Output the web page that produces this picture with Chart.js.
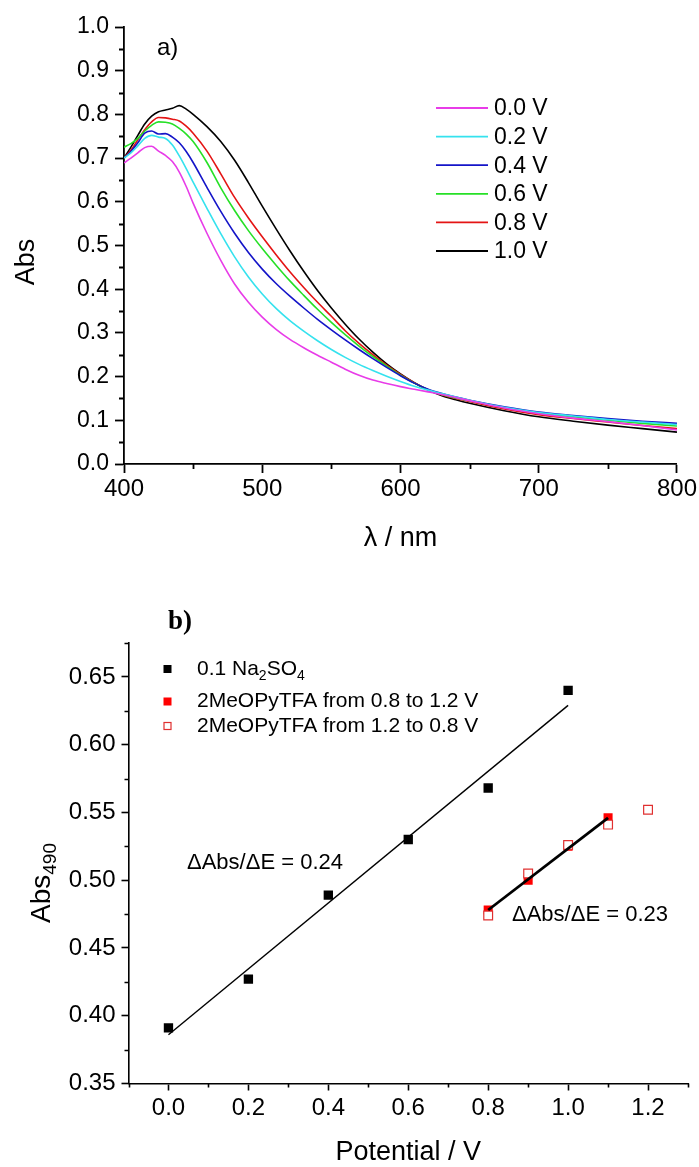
<!DOCTYPE html>
<html>
<head>
<meta charset="utf-8">
<script src="https://cdn.jsdelivr.net/npm/chart.js@4.4.0/dist/chart.umd.min.js"></script>
<style>
  html, body { margin: 0; padding: 0; background: #fff; }
  canvas { position: absolute; left: 0; }
  #spectra { top: 0; }
  #linear { top: 580px; }
</style>
</head>
<body>
<canvas id="spectra" width="699" height="580"></canvas>
<canvas id="linear" width="699" height="587"></canvas>
<script>
// a) spectra at each potential
const wavelengths = [400, 405, 410, 415, 420, 425, 430, 435, 440, 445, 450, 460, 470, 480, 490, 500, 510, 520, 530, 540,
                     550, 560, 570, 580, 590, 600, 610, 620, 630, 640, 650, 675, 700, 725, 750, 775, 800];
const potentialLabels = ['0.0 V', '0.2 V', '0.4 V', '0.6 V', '0.8 V', '1.0 V'];
const spectraColors = ['#e83ce8', '#35e2ee', '#1414c8', '#26e026', '#e41414', '#000000'];

const abs00 = [0.689, 0.700, 0.712, 0.724, 0.727, 0.716, 0.706, 0.692, 0.668, 0.635, 0.597, 0.528, 0.466, 0.412, 0.370, 0.336, 0.308, 0.285, 0.266, 0.249,
               0.233, 0.217, 0.203, 0.192, 0.184, 0.177, 0.171, 0.165, 0.159, 0.152, 0.145, 0.128, 0.115, 0.105, 0.097, 0.088, 0.078];
const abs02 = [0.700, 0.712, 0.728, 0.745, 0.752, 0.748, 0.745, 0.730, 0.705, 0.676, 0.645, 0.585, 0.527, 0.474, 0.428, 0.389, 0.356, 0.328, 0.304, 0.282,
               0.262, 0.244, 0.228, 0.214, 0.201, 0.189, 0.178, 0.169, 0.161, 0.153, 0.146, 0.130, 0.118, 0.110, 0.102, 0.096, 0.090];
const abs04 = [0.700, 0.715, 0.735, 0.757, 0.762, 0.755, 0.756, 0.748, 0.735, 0.715, 0.690, 0.633, 0.578, 0.528, 0.484, 0.446, 0.413, 0.384, 0.357, 0.331,
               0.307, 0.284, 0.262, 0.241, 0.221, 0.202, 0.185, 0.171, 0.161, 0.153, 0.146, 0.131, 0.119, 0.111, 0.104, 0.098, 0.093];
const abs06 = [0.725, 0.733, 0.745, 0.762, 0.775, 0.783, 0.782, 0.778, 0.768, 0.755, 0.738, 0.690, 0.632, 0.580, 0.534, 0.493, 0.455, 0.419, 0.386, 0.354,
               0.324, 0.296, 0.270, 0.246, 0.224, 0.203, 0.185, 0.170, 0.159, 0.151, 0.145, 0.129, 0.117, 0.108, 0.100, 0.093, 0.087];
const abs08 = [0.700, 0.718, 0.742, 0.765, 0.783, 0.793, 0.792, 0.789, 0.785, 0.773, 0.757, 0.716, 0.664, 0.610, 0.563, 0.520, 0.479, 0.440, 0.404, 0.370,
               0.338, 0.305, 0.276, 0.250, 0.226, 0.205, 0.186, 0.170, 0.158, 0.150, 0.143, 0.126, 0.113, 0.104, 0.096, 0.088, 0.081];
const abs10 = [0.700, 0.725, 0.752, 0.778, 0.796, 0.806, 0.810, 0.814, 0.820, 0.812, 0.800, 0.772, 0.738, 0.695, 0.644, 0.590, 0.538, 0.488, 0.441, 0.397,
               0.357, 0.320, 0.286, 0.256, 0.229, 0.206, 0.186, 0.169, 0.156, 0.147, 0.139, 0.122, 0.108, 0.098, 0.089, 0.081, 0.073];
const spectra = [abs00, abs02, abs04, abs06, abs08, abs10];

const spectraMinorX = [450, 550, 650, 750];
const spectraMinorY = [0.05, 0.15, 0.25, 0.35, 0.45, 0.55, 0.65, 0.75, 0.85, 0.95];

// b) Abs at 490 nm vs potential
const potentialNa = [0.0, 0.2, 0.4, 0.6, 0.8, 1.0];
const absNa = [0.391, 0.427, 0.489, 0.530, 0.568, 0.640];
const potentialUp = [0.8, 0.9, 1.0, 1.1];
const absUp = [0.478, 0.500, 0.525, 0.546];
const potentialDown = [0.8, 0.9, 1.0, 1.1, 1.2];
const absDown = [0.474, 0.505, 0.526, 0.541, 0.552];
const fitNaX = [0.0, 1.0];
const fitNaY = [0.386, 0.629];
const fitTfaX = [0.8, 1.1];
const fitTfaY = [0.478, 0.546];

const linearTicksX = [0.0, 0.2, 0.4, 0.6, 0.8, 1.0, 1.2];
const linearTicksY = [0.35, 0.40, 0.45, 0.50, 0.55, 0.60, 0.65];
const linearMinorX = [-0.1, 0.1, 0.3, 0.5, 0.7, 0.9, 1.1, 1.3];
const linearMinorY = [0.375, 0.425, 0.475, 0.525, 0.575, 0.625, 0.675];

Chart.defaults.font.family = "'Liberation Sans', Arial, sans-serif";
Chart.defaults.color = '#000';

function points(xs, ys) {
    return xs.map((x, i) => ({ x: x, y: ys[i] }));
}

// kleine Zwischenstriche an den Achsen
const minorTicks = {
    id: 'minorTicks',
    afterDraw(chart, args, opts) {
        const ctx = chart.ctx;
        const xs = chart.scales.x, ys = chart.scales.y;
        ctx.save();
        ctx.strokeStyle = '#000';
        ctx.lineWidth = opts.width;
        ctx.beginPath();
        opts.x.forEach(v => {
            const p = Math.round(xs.getPixelForValue(v)) + 0.5;
            ctx.moveTo(p, xs.top);
            ctx.lineTo(p, xs.top + opts.len);
        });
        opts.y.forEach(v => {
            const p = Math.round(ys.getPixelForValue(v)) + 0.5;
            ctx.moveTo(ys.right, p);
            ctx.lineTo(ys.right - opts.len, p);
        });
        ctx.stroke();
        ctx.restore();
    }
};

// Text mit tiefgestellten Teilen: parts = [[text, sub?], ...]
function drawParts(ctx, parts, x, y, size, subSize, subDrop) {
    let cx = x;
    parts.forEach(p => {
        ctx.font = (p[1] ? subSize : size) + "px 'Liberation Sans', Arial, sans-serif";
        ctx.fillText(p[0], cx, p[1] ? y + subDrop : y);
        cx += ctx.measureText(p[0]).width;
    });
    return cx - x;
}
function partsWidth(ctx, parts, size, subSize) {
    let w = 0;
    parts.forEach(p => {
        ctx.font = (p[1] ? subSize : size) + "px 'Liberation Sans', Arial, sans-serif";
        w += ctx.measureText(p[0]).width;
    });
    return w;
}

const spectraText = {
    id: 'spectraText',
    afterDraw(chart) {
        const ctx = chart.ctx;
        ctx.save();
        ctx.fillStyle = '#000';
        ctx.textBaseline = 'middle';
        ctx.textAlign = 'left';
        ctx.font = "24px 'Liberation Sans', Arial, sans-serif";
        ctx.fillText('a)', 157, 48);

        // Legende
        chart.data.datasets.forEach((ds, i) => {
            const y = 108 + i * 28.6;
            ctx.strokeStyle = ds.borderColor;
            ctx.lineWidth = 1.8;
            ctx.beginPath();
            ctx.moveTo(436, y);
            ctx.lineTo(488, y);
            ctx.stroke();
            ctx.font = "23px 'Liberation Sans', Arial, sans-serif";
            ctx.fillText(ds.label, 494, y + 1);
        });

        // y-Titel
        ctx.translate(27, 262);
        ctx.rotate(-Math.PI / 2);
        ctx.textAlign = 'center';
        ctx.font = "27px 'Liberation Sans', Arial, sans-serif";
        ctx.fillText('Abs', 0, 0);
        ctx.restore();
    }
};

const linearText = {
    id: 'linearText',
    afterDraw(chart) {
        const ctx = chart.ctx;
        ctx.save();
        ctx.fillStyle = '#000';
        ctx.textBaseline = 'middle';
        ctx.textAlign = 'left';
        ctx.font = "bold 27px 'Liberation Serif', 'Times New Roman', serif";
        ctx.fillText('b)', 168, 42);

        // Legende
        const markers = [
            { y: 89, fill: '#000', stroke: '#000', parts: [['0.1 Na'], ['2', 1], ['SO'], ['4', 1]] },
            { y: 121.5, fill: '#ff0000', stroke: '#ff0000', parts: [['2MeOPyTFA from 0.8 to 1.2 V']] },
            { y: 146, fill: '#fff', stroke: '#e03030', parts: [['2MeOPyTFA from 1.2 to 0.8 V']] }
        ];
        markers.forEach(m => {
            ctx.fillStyle = m.fill;
            ctx.strokeStyle = m.stroke;
            ctx.lineWidth = 1.2;
            ctx.fillRect(163.5, m.y - 4, 8, 8);
            if (m.fill === '#fff') ctx.strokeRect(164, m.y - 3.5, 7, 7);
            ctx.fillStyle = '#000';
            ctx.textBaseline = 'middle';
            drawParts(ctx, m.parts, 197, m.y, 21, 14, 7);
        });

        ctx.font = "22px 'Liberation Sans', Arial, sans-serif";
        ctx.fillText('\u0394Abs/\u0394E = 0.24', 187, 283);
        ctx.fillText('\u0394Abs/\u0394E = 0.23', 512, 335);

        // y-Titel mit Index
        const title = [['Abs'], ['490', 1]];
        ctx.translate(40, 303);
        ctx.rotate(-Math.PI / 2);
        ctx.textBaseline = 'alphabetic';
        const w = partsWidth(ctx, title, 28, 19);
        drawParts(ctx, title, -w / 2, 10, 28, 19, 6);
        ctx.restore();
    }
};

const axisBase = {
    border: { display: true, color: '#000', width: 1.8 },
    grid: { drawOnChartArea: false, drawTicks: true, color: '#000', tickColor: '#000', tickWidth: 1.8 }
};

new Chart(document.getElementById('spectra'), {
    type: 'line',
    data: {
        datasets: spectra.map((vals, i) => ({
            label: potentialLabels[i],
            data: points(wavelengths, vals),
            borderColor: spectraColors[i],
            borderWidth: 1.6,
            pointRadius: 0,
            cubicInterpolationMode: 'monotone',
            fill: false
        }))
    },
    options: {
        responsive: false,
        animation: false,
        layout: { padding: { top: 27, right: 21, left: 0, bottom: 0 } },
        plugins: {
            legend: { display: false },
            tooltip: { enabled: false },
            minorTicks: { x: spectraMinorX, y: spectraMinorY, len: 5, width: 1.8 }
        },
        scales: {
            x: {
                type: 'linear', min: 400, max: 800,
                border: axisBase.border,
                grid: Object.assign({ tickLength: 9 }, axisBase.grid),
                ticks: { stepSize: 100, font: { size: 24 }, padding: 2, maxRotation: 0 },
                title: { display: true, text: '\u03bb / nm', font: { size: 27, lineHeight: 1 }, padding: { top: 0, bottom: 28 } },
                afterFit(scale) { scale.height = 116; }
            },
            y: {
                min: 0, max: 1,
                border: axisBase.border,
                grid: Object.assign({ tickLength: 9 }, axisBase.grid),
                ticks: { stepSize: 0.1, font: { size: 23 }, padding: 6, callback: v => v.toFixed(1) },
                afterFit(scale) { scale.width = 124; }
            }
        }
    },
    plugins: [minorTicks, spectraText]
});

new Chart(document.getElementById('linear'), {
    type: 'scatter',
    data: {
        datasets: [
            {
                label: 'fit Na2SO4', type: 'line', data: points(fitNaX, fitNaY),
                borderColor: '#000', borderWidth: 1.4, pointRadius: 0, order: 0
            },
            {
                label: 'fit 2MeOPyTFA', type: 'line', data: points(fitTfaX, fitTfaY),
                borderColor: '#000', borderWidth: 2.8, pointRadius: 0, order: 0
            },
            {
                label: '2MeOPyTFA from 1.2 to 0.8 V', data: points(potentialDown, absDown),
                pointStyle: 'rect', pointRadius: 6.2, backgroundColor: '#fff',
                borderColor: '#e03030', borderWidth: 1.2, order: 1
            },
            {
                label: '2MeOPyTFA from 0.8 to 1.2 V', data: points(potentialUp, absUp),
                pointStyle: 'rect', pointRadius: 6.4, backgroundColor: '#ff0000',
                borderColor: '#ff0000', borderWidth: 0, order: 2
            },
            {
                label: '0.1 Na2SO4', data: points(potentialNa, absNa),
                pointStyle: 'rect', pointRadius: 6.6, backgroundColor: '#000',
                borderColor: '#000', borderWidth: 0, order: 3
            }
        ]
    },
    options: {
        responsive: false,
        animation: false,
        layout: { padding: { top: 63, right: 11, left: 0, bottom: 0 } },
        plugins: {
            legend: { display: false },
            tooltip: { enabled: false },
            minorTicks: { x: linearMinorX, y: linearMinorY, len: 4, width: 1.6 }
        },
        scales: {
            x: {
                type: 'linear', min: -0.1, max: 1.3,
                border: { display: true, color: '#000', width: 1.6 },
                grid: Object.assign({}, axisBase.grid, { tickLength: 7, tickWidth: 1.6 }),
                ticks: { font: { size: 24 }, padding: 3, maxRotation: 0, autoSkip: false, callback: v => v.toFixed(1) },
                afterBuildTicks(scale) { scale.ticks = linearTicksX.map(v => ({ value: v })); },
                title: { display: true, text: 'Potential / V', font: { size: 27, lineHeight: 1 }, padding: { top: 0, bottom: 1 } },
                afterFit(scale) { scale.height = 83.5; }
            },
            y: {
                min: 0.35, max: 0.675,
                border: { display: true, color: '#000', width: 1.6 },
                grid: Object.assign({}, axisBase.grid, { tickLength: 7, tickWidth: 1.6 }),
                ticks: { font: { size: 24 }, padding: 6, callback: v => v.toFixed(2) },
                afterBuildTicks(scale) { scale.ticks = linearTicksY.map(v => ({ value: v })); },
                afterFit(scale) { scale.width = 128.5; }
            }
        }
    },
    plugins: [minorTicks, linearText]
});
</script>
</body>
</html>
